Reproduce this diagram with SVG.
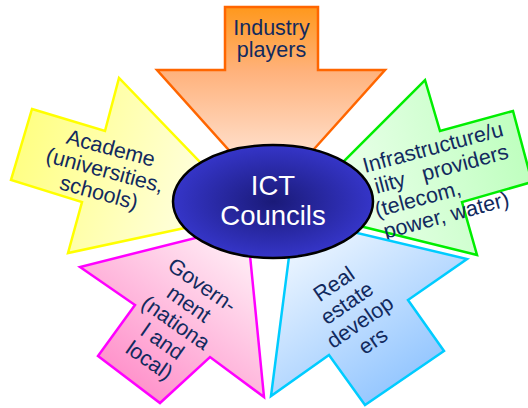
<svg xmlns="http://www.w3.org/2000/svg" width="528" height="408" viewBox="0 0 528 408">
<defs>
<style>
.arrow{stroke-width:2.5;stroke-linejoin:miter}
.lbl{font-family:"Liberation Sans",Arial,sans-serif;font-size:21.5px;fill:#122a5e;text-anchor:middle}
.lft{text-anchor:start}
.core{font-family:"Liberation Sans",Arial,sans-serif;font-size:27.5px;fill:#ffffff;text-anchor:middle}
</style>
<linearGradient id="gOrange" gradientUnits="userSpaceOnUse" x1="271" y1="7" x2="271" y2="192">
<stop offset="0" stop-color="#ff981c"/><stop offset="0.35" stop-color="#ffb27c"/><stop offset="1" stop-color="#fff4f0"/>
</linearGradient>
<linearGradient id="gYellow" gradientUnits="userSpaceOnUse" x1="20" y1="145" x2="240" y2="212">
<stop offset="0" stop-color="#ffff84"/><stop offset="1" stop-color="#fffff2"/>
</linearGradient>
<linearGradient id="gGreen" gradientUnits="userSpaceOnUse" x1="520" y1="150" x2="300" y2="210">
<stop offset="0" stop-color="#c0ffc0"/><stop offset="1" stop-color="#f5fff5"/>
</linearGradient>
<linearGradient id="gPink" gradientUnits="userSpaceOnUse" x1="120" y1="392" x2="245" y2="230">
<stop offset="0" stop-color="#ff8cc8"/><stop offset="1" stop-color="#fff5f9"/>
</linearGradient>
<linearGradient id="gBlue" gradientUnits="userSpaceOnUse" x1="410" y1="392" x2="295" y2="225">
<stop offset="0" stop-color="#90c4ff"/><stop offset="1" stop-color="#f5faff"/>
</linearGradient>
<radialGradient id="gCore" cx="0.5" cy="0.5" r="0.5">
<stop offset="0" stop-color="#1a1a78"/><stop offset="1" stop-color="#3535c8"/>
</radialGradient>
</defs>
<g id="connectors"/>
<g id="industry">
<polygon class="arrow" fill="url(#gOrange)" stroke="#ff6600" points="225,7 318,7 318,70 385,70 271,197 157,70 225,70"/>
<text class="lbl" x="271.5" y="35">Industry<tspan x="271.5" dy="22">players</tspan></text>
</g>
<g id="academe">
<polygon class="arrow" fill="url(#gYellow)" stroke="#ffff00" points="32,109 105,131 119,78 250,214 68,253 82,202 11,180"/>
<text class="lbl" transform="translate(109,155) rotate(15)" x="0" y="0">Academe<tspan x="0" dy="23">(universities,</tspan><tspan x="0" dy="23">schools)</tspan></text>
</g>
<g id="infrastructure">
<polygon class="arrow" fill="url(#gGreen)" stroke="#00ee00" points="425,80 440,131 513,111 532,182 462,202 477,255 295,210"/>
<text class="lbl lft" transform="translate(365,173) rotate(-15)" x="0" y="0">Infrastructure/u<tspan x="6" dy="23" word-spacing="12">ility providers</tspan><tspan x="0" dy="23">(telecom,</tspan><tspan x="3" dy="23">power, water)</tspan></text>
</g>
<g id="government">
<polygon class="arrow" fill="url(#gPink)" stroke="#ff00ff" points="80,267 135,305 98,356 160,403 210,357 264,397 247,225"/>
<text class="lbl" transform="translate(198,291) rotate(35)" x="0" y="0">Govern-<tspan x="0" dy="23">ment</tspan><tspan x="0" dy="23">(nationa</tspan><tspan x="0" dy="23">l and</tspan><tspan x="0" dy="23">local)</tspan></text>
</g>
<g id="real-estate">
<polygon class="arrow" fill="url(#gBlue)" stroke="#00ccff" points="271,396 294,218 467,259 408,300 444,351 365,405 329,355"/>
<text class="lbl" transform="translate(338,290) rotate(-34.5)" x="0" y="0">Real<tspan x="0" dy="23">estate</tspan><tspan x="0" dy="23">develop</tspan><tspan x="0" dy="23">ers</tspan></text>
</g>
<g id="ict-councils">
<ellipse cx="273" cy="201.5" rx="100" ry="56.5" fill="url(#gCore)" stroke="#000000" stroke-width="2.5"/>
<text class="core" x="273" y="195">ICT<tspan x="273" dy="30">Councils</tspan></text>
</g>
</svg>
